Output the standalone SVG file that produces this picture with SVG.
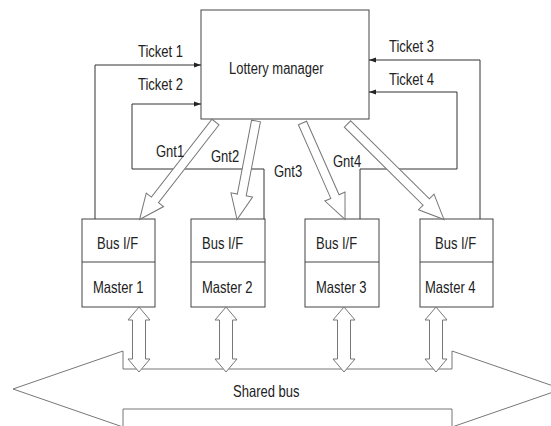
<svg xmlns="http://www.w3.org/2000/svg" width="551" height="426" viewBox="0 0 551 426">
<style>
.box{fill:#fff;stroke:#444;stroke-width:1}
.lbl{font-family:"Liberation Sans",Arial,sans-serif;font-size:13px;fill:#222}
.wire{fill:none;stroke:#333;stroke-width:1}
.hollow{fill:#fff;stroke:#777;stroke-width:1;stroke-linejoin:miter}
</style>
<defs>
<marker id="ah" markerWidth="7" markerHeight="6" refX="7" refY="3" orient="auto" markerUnits="userSpaceOnUse">
<path d="M0,0.5 L7,3 L0,5.5 Z" fill="#222"/>
</marker>
</defs>
<rect width="551" height="426" fill="#fff"/>
<g id="shared-bus">
<polygon class="hollow" points="13,389 123,351 123,369 452,369 452,351 562,389 452,427 452,409 123,409 123,427"/>
<text class="lbl" transform="translate(233,397) scale(1,1.22)">Shared bus</text>
</g>
<g id="lottery-manager">
<rect class="box" x="201" y="10" width="168" height="109"/>
<text class="lbl" font-size="13.5" transform="translate(229,74) scale(1,1.2)">Lottery manager</text>
</g>
<g id="master1">
<rect class="box" x="82" y="219" width="73" height="88"/>
<line x1="82" y1="262" x2="155" y2="262" stroke="#444"/>
<text class="lbl" transform="translate(97,249) scale(1,1.22)">Bus I/F</text>
<text class="lbl" transform="translate(93,293) scale(1,1.22)">Master 1</text>
</g>
<g id="master2">
<rect class="box" x="191" y="219" width="74" height="88"/>
<line x1="191" y1="262" x2="265" y2="262" stroke="#444"/>
<text class="lbl" transform="translate(202,249) scale(1,1.22)">Bus I/F</text>
<text class="lbl" transform="translate(202,293) scale(1,1.22)">Master 2</text>
</g>
<g id="master3">
<rect class="box" x="305" y="219" width="74" height="88"/>
<line x1="305" y1="262" x2="379" y2="262" stroke="#444"/>
<text class="lbl" transform="translate(316,249) scale(1,1.22)">Bus I/F</text>
<text class="lbl" transform="translate(316,293) scale(1,1.22)">Master 3</text>
</g>
<g id="master4">
<rect class="box" x="420" y="219" width="73" height="88"/>
<line x1="420" y1="262" x2="493" y2="262" stroke="#444"/>
<text class="lbl" transform="translate(435,249) scale(1,1.22)">Bus I/F</text>
<text class="lbl" transform="translate(425,293) scale(1,1.22)">Master 4</text>
</g>
<g id="connectors">
<polyline class="wire" points="95,219 95,65 201,65" marker-end="url(#ah)"/>
<polyline class="wire" points="264,219 264,169 132,169 132,104 201,104" marker-end="url(#ah)"/>
<polyline class="wire" points="480,219 480,60 369,60" marker-end="url(#ah)"/>
<polyline class="wire" points="360,219 360,169 457,169 457,92 369,92" marker-end="url(#ah)"/>
<text class="lbl" transform="translate(138,57) scale(1,1.22)">Ticket 1</text>
<text class="lbl" transform="translate(138,90) scale(1,1.22)">Ticket 2</text>
<text class="lbl" transform="translate(389,52) scale(1,1.22)">Ticket 3</text>
<text class="lbl" transform="translate(389,85) scale(1,1.22)">Ticket 4</text>
<polygon class="hollow" transform="translate(215.5,122) rotate(127.9)" points="0,-4.5 98.6,-4.5 98.6,-11 123.6,0 98.6,11 98.6,4.5 0,4.5"/>
<polygon class="hollow" transform="translate(256,121) rotate(100.9)" points="0,-4.5 75.3,-4.5 75.3,-11 100.3,0 75.3,11 75.3,4.5 0,4.5"/>
<polygon class="hollow" transform="translate(302.5,123) rotate(66.2)" points="0,-4.5 80.4,-4.5 80.4,-11 105.4,0 80.4,11 80.4,4.5 0,4.5"/>
<polygon class="hollow" transform="translate(347.5,124) rotate(44.7)" points="0,-4.5 110.8,-4.5 110.8,-11 135.8,0 110.8,11 110.8,4.5 0,4.5"/>
<text class="lbl" transform="translate(156,157) scale(1,1.22)">Gnt1</text>
<text class="lbl" transform="translate(211,162) scale(1,1.22)">Gnt2</text>
<text class="lbl" transform="translate(274,177) scale(1,1.22)">Gnt3</text>
<text class="lbl" transform="translate(333,167) scale(1,1.22)">Gnt4</text>
<polygon class="hollow" points="139,307 150,320 145.5,320 145.5,359 150,359 139,372 128,359 132.5,359 132.5,320 128,320"/>
<polygon class="hollow" points="226,307 237,320 232.5,320 232.5,359 237,359 226,372 215,359 219.5,359 219.5,320 215,320"/>
<polygon class="hollow" points="344,307 355,320 350.5,320 350.5,359 355,359 344,372 333,359 337.5,359 337.5,320 333,320"/>
<polygon class="hollow" points="436,307 447,320 442.5,320 442.5,359 447,359 436,372 425,359 429.5,359 429.5,320 425,320"/>
</g>
</svg>
